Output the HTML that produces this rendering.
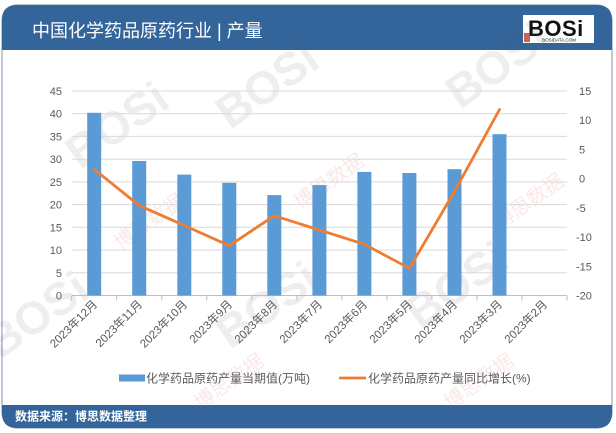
<!DOCTYPE html>
<html><head><meta charset="utf-8">
<style>
html,body{margin:0;padding:0;background:#fff;}
svg{display:block;}
text{font-family:"Liberation Sans","Noto Sans CJK SC",sans-serif;}
</style></head>
<body>
<svg width="616" height="433" viewBox="0 0 616 433" xmlns="http://www.w3.org/2000/svg">
<!-- card -->
<rect x="2" y="5" width="610" height="423" rx="15" ry="15" fill="#fff" stroke="#7d93ad" stroke-width="1"/>
<!-- header -->
<path d="M2,50 L2,20 Q2,5 17,5 L597,5 Q612,5 612,20 L612,50 Z" fill="#34659a"/>
<text x="32" y="37" font-size="18" fill="#fff">中国化学药品原药行业 | 产量</text>
<!-- logo -->
<rect x="523" y="15" width="71" height="28" fill="#fff"/>
<text x="528" y="36" font-size="22" font-weight="bold" fill="#111" letter-spacing="0.5">BOSi</text>
<rect x="524" y="33" width="6" height="9" fill="#c0392b" opacity="0.8"/>
<text x="559" y="41.5" font-size="4.5" fill="#111" text-anchor="middle">BOSIDATA.COM</text>
<!-- footer -->
<path d="M2,405 L612,405 L612,413 Q612,428 597,428 L17,428 Q2,428 2,413 Z" fill="#34659a"/>
<text x="15" y="420.5" font-size="12" font-weight="bold" fill="#fff">数据来源：博思数据整理</text>

<!-- watermarks -->
<g opacity="0.10" font-weight="bold" fill="#555">
<text x="0" y="0" font-size="46" transform="translate(80,170) rotate(-35)">BOSi</text>
<text x="0" y="0" font-size="46" transform="translate(230,130) rotate(-35)">BOSi</text>
<text x="0" y="0" font-size="46" transform="translate(460,110) rotate(-35)">BOSi</text>
<text x="0" y="0" font-size="46" transform="translate(0,360) rotate(-35)">BOSi</text>
<text x="0" y="0" font-size="46" transform="translate(230,350) rotate(-35)">BOSi</text>
<text x="0" y="0" font-size="46" transform="translate(420,330) rotate(-35)">BOSi</text>
</g>
<g opacity="0.12" fill="#d04040">
<text x="0" y="0" font-size="20" transform="translate(120,250) rotate(-35)">博思数据</text>
<text x="0" y="0" font-size="20" transform="translate(300,210) rotate(-35)">博思数据</text>
<text x="0" y="0" font-size="20" transform="translate(500,230) rotate(-35)">博思数据</text>
<text x="0" y="0" font-size="20" transform="translate(200,410) rotate(-35)">博思数据</text>
<text x="0" y="0" font-size="20" transform="translate(450,410) rotate(-35)">博思数据</text>
</g>

<!-- gridlines -->
<g stroke="#d9d9d9" stroke-width="1">
<line x1="71.7" x2="567" y1="91" y2="91"/>
<line x1="71.7" x2="567" y1="113.7" y2="113.7"/>
<line x1="71.7" x2="567" y1="136.4" y2="136.4"/>
<line x1="71.7" x2="567" y1="159.2" y2="159.2"/>
<line x1="71.7" x2="567" y1="181.9" y2="181.9"/>
<line x1="71.7" x2="567" y1="204.6" y2="204.6"/>
<line x1="71.7" x2="567" y1="227.3" y2="227.3"/>
<line x1="71.7" x2="567" y1="250.1" y2="250.1"/>
<line x1="71.7" x2="567" y1="272.8" y2="272.8"/>
</g>
<!-- axis line + ticks -->
<g stroke="#bfbfbf" stroke-width="1">
<line x1="71.7" x2="567" y1="295.5" y2="295.5"/>
<line x1="71.7" x2="71.7" y1="295.5" y2="300.5"/>
<line x1="116.7" x2="116.7" y1="295.5" y2="300.5"/>
<line x1="161.8" x2="161.8" y1="295.5" y2="300.5"/>
<line x1="206.8" x2="206.8" y1="295.5" y2="300.5"/>
<line x1="251.8" x2="251.8" y1="295.5" y2="300.5"/>
<line x1="296.9" x2="296.9" y1="295.5" y2="300.5"/>
<line x1="341.9" x2="341.9" y1="295.5" y2="300.5"/>
<line x1="386.9" x2="386.9" y1="295.5" y2="300.5"/>
<line x1="431.9" x2="431.9" y1="295.5" y2="300.5"/>
<line x1="477" x2="477" y1="295.5" y2="300.5"/>
<line x1="522" x2="522" y1="295.5" y2="300.5"/>
<line x1="567" x2="567" y1="295.5" y2="300.5"/>
</g>

<!-- left axis labels -->
<g font-size="11" fill="#595959" text-anchor="end">
<text x="62" y="95">45</text>
<text x="62" y="117.7">40</text>
<text x="62" y="140.4">35</text>
<text x="62" y="163.2">30</text>
<text x="62" y="185.9">25</text>
<text x="62" y="208.6">20</text>
<text x="62" y="231.3">15</text>
<text x="62" y="254.1">10</text>
<text x="62" y="276.8">5</text>
<text x="62" y="299.5">0</text>
</g>
<!-- right axis labels -->
<g font-size="11" fill="#595959" text-anchor="start">
<text x="579" y="95">15</text>
<text x="579" y="124.2">10</text>
<text x="579" y="153.4">5</text>
<text x="579" y="182.6">0</text>
<text x="576" y="211.8">-5</text>
<text x="576" y="241">-10</text>
<text x="576" y="270.3">-15</text>
<text x="576" y="299.5">-20</text>
</g>

<!-- bars -->
<g fill="#5b9bd5">
<rect x="87.2" y="112.8" width="14" height="182.7"/>
<rect x="132.2" y="161" width="14" height="134.5"/>
<rect x="177.3" y="174.6" width="14" height="120.9"/>
<rect x="222.3" y="182.8" width="14" height="112.7"/>
<rect x="267.3" y="195.1" width="14" height="100.4"/>
<rect x="312.4" y="185.1" width="14" height="110.4"/>
<rect x="357.4" y="171.9" width="14" height="123.6"/>
<rect x="402.4" y="173" width="14" height="122.5"/>
<rect x="447.5" y="169.2" width="14" height="126.3"/>
<rect x="492.5" y="134.2" width="14" height="161.3"/>
</g>

<!-- line -->
<polyline fill="none" stroke="#ed7d31" stroke-width="2.8" stroke-linejoin="round" stroke-linecap="round"
points="94.2,169.3 139.2,205.5 184.3,225.5 229.3,245.7 274.3,215.7 319.4,230 364.4,244.3 409.4,268.3 454.5,191.5 499.5,109.5"/>

<!-- x labels -->
<g font-size="11.5" fill="#595959" text-anchor="end">
<text transform="translate(98,305) rotate(-45)">2023年12月</text>
<text transform="translate(143,305) rotate(-45)">2023年11月</text>
<text transform="translate(188,305) rotate(-45)">2023年10月</text>
<text transform="translate(233,305) rotate(-45)">2023年9月</text>
<text transform="translate(278,305) rotate(-45)">2023年8月</text>
<text transform="translate(323,305) rotate(-45)">2023年7月</text>
<text transform="translate(368,305) rotate(-45)">2023年6月</text>
<text transform="translate(413,305) rotate(-45)">2023年5月</text>
<text transform="translate(458,305) rotate(-45)">2023年4月</text>
<text transform="translate(503,305) rotate(-45)">2023年3月</text>
<text transform="translate(548,305) rotate(-45)">2023年2月</text>
</g>

<!-- legend -->
<rect x="119" y="374.5" width="26" height="7" fill="#5b9bd5"/>
<text x="146" y="382.5" font-size="12" fill="#595959">化学药品原药产量当期值(万吨)</text>
<line x1="339" x2="366" y1="378" y2="378" stroke="#ed7d31" stroke-width="2.8"/>
<text x="368" y="382.5" font-size="12" fill="#595959">化学药品原药产量同比增长(%)</text>
</svg>
</body></html>
